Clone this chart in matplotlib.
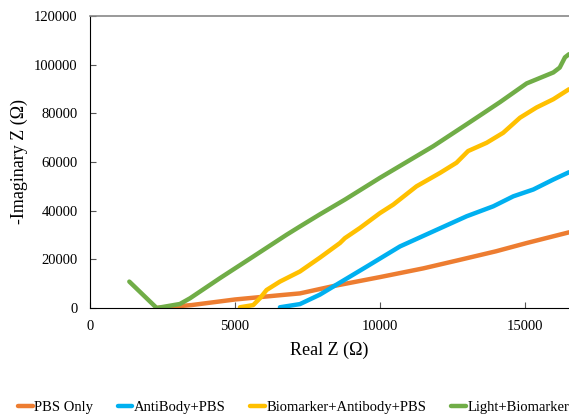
import matplotlib
matplotlib.use("Agg")
import matplotlib.pyplot as plt

# Nyquist curves (Real Z, -Imag Z in ohm)
pbs_x = [2300, 3500, 5000, 6500, 7240, 8390, 10000, 11500, 12760, 14000, 15060, 16520]
pbs_y = [0, 1200, 3500, 5200, 6000, 9000, 12700, 16300, 19800, 23300, 26700, 31100]

ab_x = [6550, 7240, 7930, 8390, 9540, 10690, 11840, 12990, 13910, 14600, 15290, 15980, 16520]
ab_y = [300, 1600, 5500, 8800, 17000, 25300, 31500, 37700, 41800, 45900, 48700, 52800, 55800]

bm_x = [5170, 5630, 5860, 6090, 6550, 7240, 7930, 8620, 8790, 9310, 10000, 10460, 11260,
        12070, 12640, 13040, 13680, 14250, 14830, 15400, 15980, 16520]
bm_y = [300, 1200, 4000, 7400, 10850, 15000, 20700, 26700, 28700, 32900, 39000, 42500, 50000,
        55500, 59700, 64500, 67900, 72000, 78200, 82400, 85800, 89900]

lt_x = [1356, 2300, 3100, 3450, 4480, 5630, 6780, 7240, 7930, 8800, 10000, 11840, 12990, 13560,
        14140, 15060, 15980, 16200, 16380, 16520]
lt_y = [10850, 0, 1650, 4000, 12250, 21150, 30100, 33500, 38500, 44600, 53500, 66500, 75500, 80000,
        84600, 92300, 96800, 98800, 103000, 104300]

series = [
    ("PBS Only", pbs_x, pbs_y, "#ED7D31"),
    ("AntiBody+PBS", ab_x, ab_y, "#00B0F0"),
    ("Biomarker+Antibody+PBS", bm_x, bm_y, "#FFC000"),
    ("Light+Biomarker", lt_x, lt_y, "#70AD47"),
]

plt.rcParams['font.family'] = ['Liberation Serif', 'DejaVu Serif']

fig = plt.figure(figsize=(5.69, 4.16), dpi=100)
ax = fig.add_axes([90 / 569, 108 / 416, 1 - 90 / 569, 292 / 416])

for name, xs, ys, col in series:
    ax.plot(xs, ys, color=col, lw=3.2, label=name, solid_capstyle='round')

ax.set_xlim(0, 16520)
ax.set_ylim(0, 120000)
ax.set_xticks([0, 5000, 10000, 15000])
ax.set_yticks(range(0, 120001, 20000))
ax.tick_params(direction='in', length=4, labelsize=10.5, color='#555555')
ax.tick_params(axis='x', pad=9)
ax.tick_params(axis='y', pad=9)
ax.spines['right'].set_visible(False)
ax.spines['top'].set_color('#888888')
ax.spines['top'].set_linewidth(1.2)

ax.set_xlabel('Real Z (Ω)', fontsize=13, labelpad=6)
ax.set_ylabel('-Imaginary Z (Ω)', fontsize=13, labelpad=4)

fig.legend(loc='lower center', bbox_to_anchor=(0.516, -0.026), ncol=4, frameon=False,
           fontsize=10.5, handlelength=1.0, handletextpad=0.1, columnspacing=1.7)

fig.savefig('out.png', dpi=100)
